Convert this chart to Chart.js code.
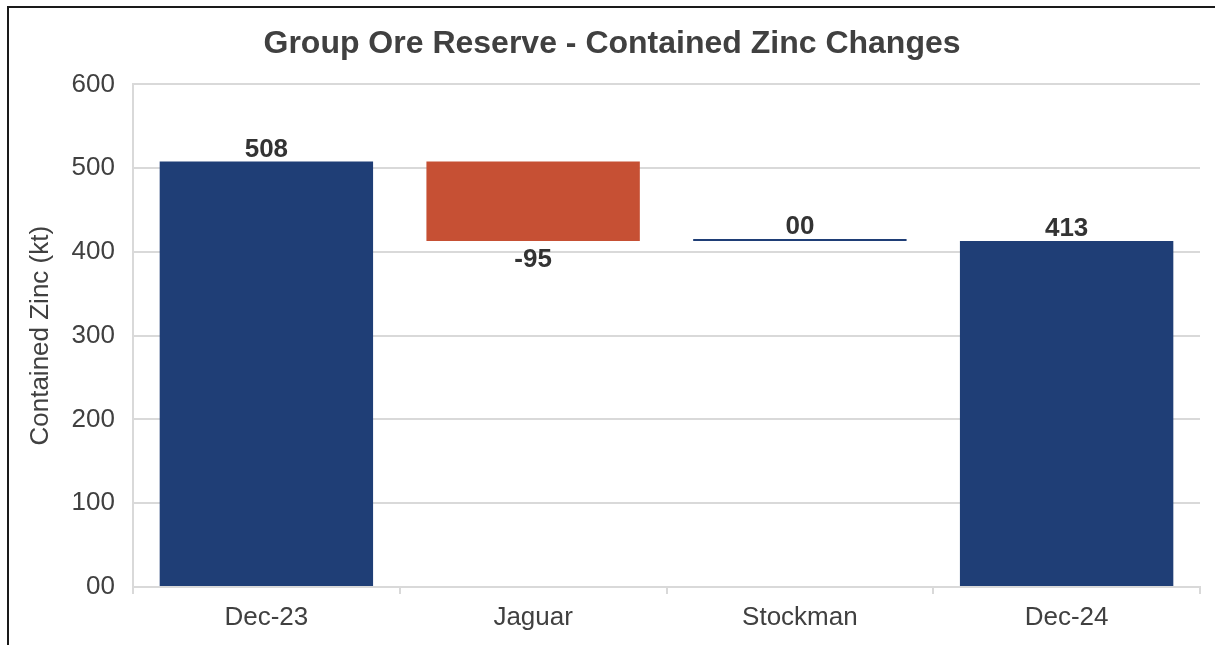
<!DOCTYPE html>
<html>
<head>
<meta charset="utf-8">
<script src="https://cdn.jsdelivr.net/npm/chart.js@4.4.1/dist/chart.umd.min.js"></script>
<style>
  html, body { margin: 0; padding: 0; background: #fff; overflow: hidden; }
  #wrap { position: relative; width: 1215px; height: 645px; }
  #frame { position: absolute; left: 7px; top: 6px; width: 1300px; height: 700px;
           border: 2px solid #1a1a1a; pointer-events: none; }
  canvas { position: absolute; left: 0; top: 0; }
</style>
</head>
<body>
<div id="wrap">
  <canvas id="zinc" width="1215" height="645"></canvas>
  <div id="frame"></div>
</div>
<script>
// ── Datos ────────────────────────────────────────────────────
const CATEGORIES = ['Dec-23', 'Jaguar', 'Stockman', 'Dec-24'];
const CHANGES    = [508, -95, 0, 413];
const IS_TOTAL   = [true, false, false, true];
const Y_TICKS    = [0, 100, 200, 300, 400, 500, 600];

const NAVY   = '#1F3E76';
const ORANGE = '#C65034';
const TEXT   = '#404040';

// floating bars [start, end] from the running total
let running = 0;
const floating = CHANGES.map((v, i) => {
  if (IS_TOTAL[i]) { running = v; return [0, v]; }
  const start = running;
  running += v;
  return [start, running];
});
const colors = CHANGES.map((v, i) => (!IS_TOTAL[i] && v < 0) ? ORANGE : NAVY);
const fmt = v => (v === 0 ? '00' : String(v));

// ── Etiquetas de valor ───────────────────────────────────────
const valueLabels = {
  id: 'valueLabels',
  afterDatasetsDraw(chart) {
    const { ctx } = chart;
    const meta = chart.getDatasetMeta(0);
    ctx.save();
    ctx.font = 'bold 26px "Liberation Sans", Arial, sans-serif';
    ctx.fillStyle = '#333333';
    ctx.textAlign = 'center';
    meta.data.forEach((bar, i) => {
      const top = Math.min(bar.y, bar.base);
      const bottom = Math.max(bar.y, bar.base);
      if (CHANGES[i] < 0) {
        ctx.textBaseline = 'top';
        ctx.fillText(fmt(CHANGES[i]), bar.x, bottom + 6);
      } else {
        ctx.textBaseline = 'bottom';
        ctx.fillText(fmt(CHANGES[i]), bar.x, top + 1);
      }
    });
    ctx.restore();
  }
};

// ── Gráfica ──────────────────────────────────────────────────
new Chart(document.getElementById('zinc'), {
  type: 'bar',
  data: {
    labels: CATEGORIES,
    datasets: [{
      data: floating,
      backgroundColor: colors,
      borderWidth: 0,
      minBarLength: 2,
      categoryPercentage: 0.8,
      barPercentage: 1.0,
    }],
  },
  options: {
    responsive: false, animation: false,
    layout: { padding: { left: 24, right: 15, top: 0, bottom: 0 } },
    plugins: {
      legend: { display: false },
      tooltip: { enabled: false },
      title: {
        display: true,
        text: 'Group Ore Reserve - Contained Zinc Changes',
        color: TEXT,
        font: { family: '"Liberation Sans", Arial, sans-serif', size: 32, weight: 'bold' },
        padding: { top: 25, bottom: 21 },
      },
    },
    scales: {
      x: {
        grid: { offset: true, drawOnChartArea: false, drawTicks: true, tickLength: 7,
                color: '#d9d9d9', lineWidth: 2 },
        border: { color: '#d9d9d9', width: 2 },
        ticks: { color: TEXT, padding: 8,
                 font: { family: '"Liberation Sans", Arial, sans-serif', size: 26 } },
        afterFit(scale) { scale.height = 58; },
      },
      y: {
        min: 0, max: 600,
        afterBuildTicks(scale) { scale.ticks = Y_TICKS.map(v => ({ value: v })); },
        grid: { color: '#d9d9d9', lineWidth: 2, drawTicks: false },
        border: { color: '#d9d9d9', width: 2 },
        ticks: { color: TEXT, padding: 18, callback: v => fmt(v),
                 font: { family: '"Liberation Sans", Arial, sans-serif', size: 26 } },
        title: {
          display: true, text: 'Contained Zinc (kt)', color: TEXT,
          padding: { top: 1, bottom: 0 },
          font: { family: '"Liberation Sans", Arial, sans-serif', size: 26 },
        },
        afterFit(scale) { scale.width = 109; },
      },
    },
  },
  plugins: [valueLabels],
});
</script>
</body>
</html>
